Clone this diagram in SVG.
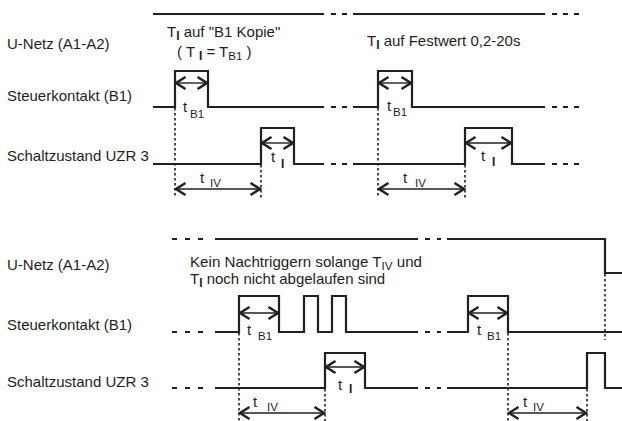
<svg xmlns="http://www.w3.org/2000/svg" width="622" height="421" viewBox="0 0 622 421">
<defs>
<style>
text{font-family:"Liberation Sans",Arial,sans-serif;fill:#231f20}
.lbl{font-size:15px}
.t{font-size:15px}
.sub{font-size:11.5px}
.subI{font-size:12px;font-weight:bold}
.sig{fill:none;stroke:#231f20;stroke-width:2.2;stroke-linejoin:miter}
.dot{fill:none;stroke:#231f20;stroke-width:1.6;stroke-dasharray:2.5 2.5}
.dim{fill:none;stroke:#231f20;stroke-width:1.4;marker-start:url(#ah);marker-end:url(#ah)}
</style>
<marker id="ah" viewBox="0 0 13 15" markerWidth="13" markerHeight="15" refX="11" refY="7.5" orient="auto-start-reverse" markerUnits="userSpaceOnUse">
<path d="M1.5,1.5 L11,7.5 L1.5,13.5" fill="none" stroke="#231f20" stroke-width="2.4"/>
</marker>
</defs>
<rect width="622" height="421" fill="#ffffff"/>

<g id="labels">
<text class="lbl" x="7" y="49">U-Netz (A1-A2)</text>
<text class="lbl" x="7" y="101">Steuerkontakt (B1)</text>
<text class="lbl" x="7" y="161">Schaltzustand UZR 3</text>
<text class="lbl" x="7" y="270">U-Netz (A1-A2)</text>
<text class="lbl" x="7" y="330">Steuerkontakt (B1)</text>
<text class="lbl" x="7" y="387">Schaltzustand UZR 3</text>
</g>

<g id="notes">
<text class="t" x="167" y="37">T<tspan class="subI" dy="3">I</tspan><tspan dy="-3"> auf "B1 Kopie"</tspan></text>
<text class="t" x="177" y="57">( T <tspan class="subI" dy="3">I</tspan><tspan dy="-3"> = T</tspan><tspan class="sub" dy="3">B1</tspan><tspan dy="-3"> )</tspan></text>
<text class="t" x="367" y="46">T<tspan class="subI" dy="3">I</tspan><tspan dy="-3"> auf Festwert 0,2-20s</tspan></text>
<text class="t" x="190" y="267" textLength="232" lengthAdjust="spacingAndGlyphs">Kein Nachtriggern solange T<tspan class="sub" dy="3">IV</tspan><tspan dy="-3">  und</tspan></text>
<text class="t" x="190" y="284">T<tspan class="subI" dy="3">I</tspan><tspan dy="-3"> noch nicht  abgelaufen sind</tspan></text>
</g>

<g id="signals-top">
<path class="sig" d="M153,14 H324 M331,14 H336 M342,14 H347 M353,14 H545 M552,14 H557 M563,14 H568 M574,14 H579"/>
<path class="sig" d="M153,107 H175 V71 H208 V107 H324 M331,107 H336 M342,107 H347 M353,107 H378 V71 H412 V107 H545 M552,107 H557 M563,107 H568 M574,107 H579"/>
<path class="sig" d="M153,164 H261 V128 H294 V164 H324 M331,164 H336 M342,164 H347 M353,164 H465 V128 H512 V164 H545 M552,164 H557 M563,164 H568 M574,164 H579"/>
</g>

<g id="signals-bottom">
<path class="sig" d="M172,239 H177 M185,239 H190 M198,239 H203 M215,239 H418 M425,239 H430 M437,239 H441 M447,239 H605 V273 H622"/>
<path class="sig" d="M172,332 H177 M185,332 H190 M198,332 H203 M215,332 H239 V296 H279 V332 H304 V296 H318 V332 H332 V296 H346 V332 H418 M425,332 H430 M437,332 H441 M447,332 H468 V296 H508 V332 H622"/>
<path class="sig" d="M172,388 H177 M185,388 H190 M198,388 H203 M215,388 H325 V353 H365 V388 H418 M425,388 H430 M437,388 H441 M447,388 H587 V353 H605 V388 H622"/>
</g>

<g id="connectors">
<path class="dot" d="M175,108 V198 M261,165 V198 M378,108 V198 M465,165 V198"/>
<path class="dot" d="M239,333 V421 M325,389 V421 M508,333 V421 M587,389 V421 M605,274 V340"/>
<path class="dim" d="M176,83 H207"/>
<path class="dim" d="M262,143 H293"/>
<path class="dim" d="M176,189 H260"/>
<path class="dim" d="M379,83 H411"/>
<path class="dim" d="M466,143 H511"/>
<path class="dim" d="M379,189 H464"/>
<path class="dim" d="M240,313 H278"/>
<path class="dim" d="M469,313 H507"/>
<path class="dim" d="M326,367 H364"/>
<path class="dim" d="M240,413 H324"/>
<path class="dim" d="M509,413 H586"/>
</g>

<g id="dim-labels">
<text class="t" x="183" y="112">t</text><text class="sub" x="190" y="118">B1</text>
<text class="t" x="271" y="162">t</text><text class="subI" x="281" y="168">I</text>
<text class="t" x="200" y="183">t</text><text class="sub" x="210" y="187">IV</text>
<text class="t" x="387" y="111">t</text><text class="sub" x="393" y="116">B1</text>
<text class="t" x="481" y="161">t</text><text class="subI" x="492" y="166">I</text>
<text class="t" x="403" y="183">t</text><text class="sub" x="415" y="187">IV</text>
<text class="t" x="247" y="335">t</text><text class="sub" x="258" y="340">B1</text>
<text class="t" x="338" y="390">t</text><text class="subI" x="349" y="393">I</text>
<text class="t" x="253" y="407">t</text><text class="sub" x="267" y="411">IV</text>
<text class="t" x="477" y="335">t</text><text class="sub" x="487" y="340">B1</text>
<text class="t" x="523" y="407">t</text><text class="sub" x="533" y="411">IV</text>
</g>
</svg>
